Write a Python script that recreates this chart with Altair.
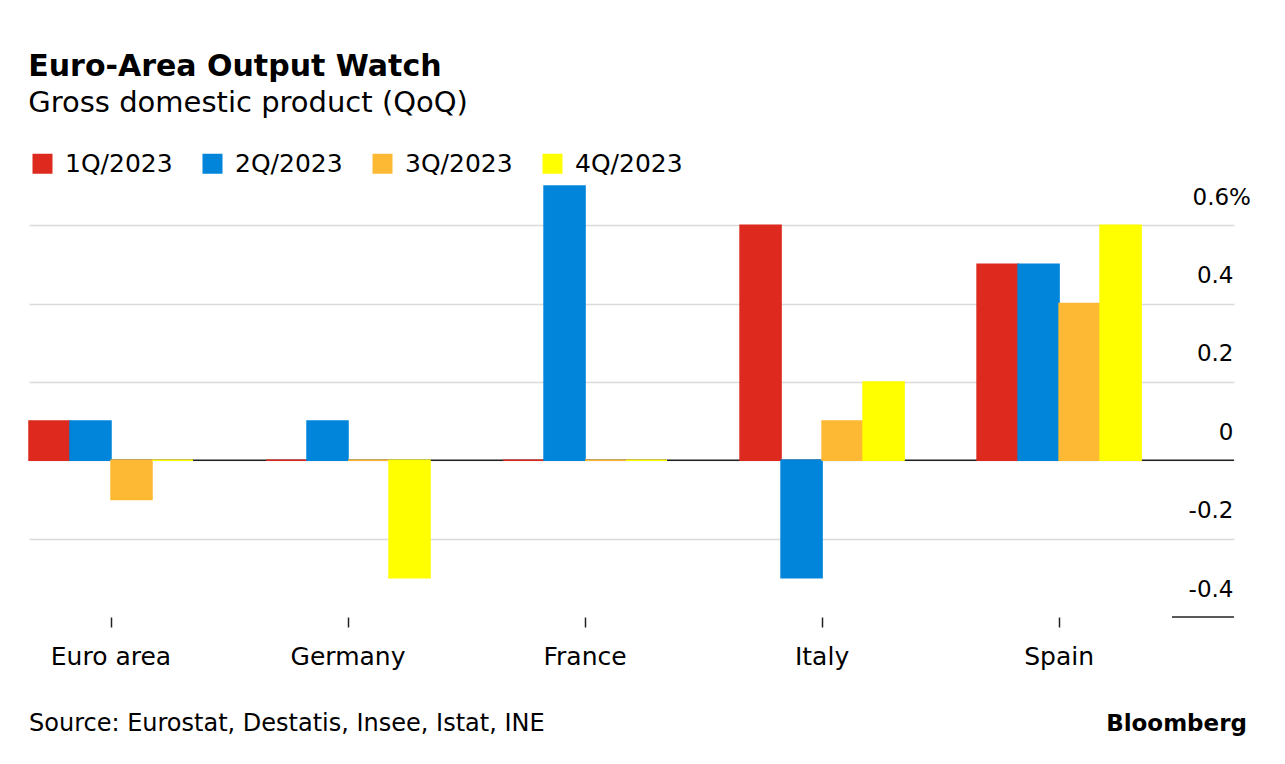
import altair as alt
import pandas as pd

countries = ["Euro area", "Germany", "France", "Italy", "Spain"]
quarters = ["1Q/2023", "2Q/2023", "3Q/2023", "4Q/2023"]
q1 = [0.1, 0.0, 0.0, 0.6, 0.5]
q2 = [0.1, 0.1, 0.7, -0.3, 0.5]
q3 = [-0.1, 0.0, 0.0, 0.1, 0.4]
q4 = [0.0, -0.3, 0.0, 0.2, 0.6]
colors = ["#DD291E", "#0085DB", "#FDB933", "#FFFF00"]
y_ticks = [-0.4, -0.2, 0, 0.2, 0.4, 0.6]
source_text = "Source: Eurostat, Destatis, Insee, Istat, INE"
brand_text = "Bloomberg"

rows = []
for qname, series in zip(quarters, [q1, q2, q3, q4]):
    for c, v in zip(countries, series):
        rows.append({"country": c, "quarter": qname, "value": v})
df = pd.DataFrame(rows)

FONT = "DejaVu Sans"
W, H = 1205, 431

color_scale = alt.Scale(domain=quarters, range=colors)
y_scale = alt.Scale(domain=[-0.4, 0.7], nice=False)

bars = alt.Chart(df).mark_bar(strokeWidth=1.5).encode(
    x=alt.X("country:N", sort=countries,
            scale=alt.Scale(paddingInner=0.308, paddingOuter=0.196, align=0),
            axis=alt.Axis(title=None, labelAngle=0, labelFont=FONT, labelFontSize=25,
                          labelColor="black", domain=False, ticks=True, tickSize=10,
                          tickColor="#222", tickWidth=1.5, labelPadding=17,
                          grid=False)),
    xOffset=alt.XOffset("quarter:N", sort=quarters,
                        scale=alt.Scale(paddingInner=0, paddingOuter=0)),
    y=alt.Y("value:Q", scale=y_scale,
            axis=alt.Axis(title=None, orient="right", values=y_ticks,
                          labelExpr="datum.value > 0.55 ? ('' + datum.value + '%') : ('' + datum.value)",
                          labelFont=FONT, labelFontSize=23, labelColor="black",
                          labelAlign={"condition": {"test": "datum.value > 0.55", "value": "left"}, "value": "right"},
                          labelPadding={"condition": {"test": "datum.value > 0.55", "value": -42}, "value": -1},
                          labelBaseline="alphabetic", labelOffset=-21,
                          domain=False, ticks=False, tickSize=0,
                          grid=True, gridColor="#DADADA", gridWidth=1.5,
                          gridOpacity={"condition": {"test": "datum.value < -0.3", "value": 0}, "value": 1})),
    color=alt.Color("quarter:N", sort=quarters, scale=color_scale,
                    legend=alt.Legend(title=None, orient="none", legendX=1, legendY=-35,
                                      direction="horizontal", symbolType="square",
                                      symbolSize=400, symbolStrokeWidth=0,
                                      labelFont=FONT, labelFontSize=25, labelColor="black",
                                      labelOffset=10, columnPadding=27)),
    stroke=alt.Stroke("quarter:N", sort=quarters, scale=color_scale, legend=None),
)

zero_rule = alt.Chart(pd.DataFrame({"v": [0]})).mark_rule(color="#222", strokeWidth=1.5).encode(
    y=alt.datum(0)
)
bottom_rule = alt.Chart(pd.DataFrame({"v": [0]})).mark_rule(color="#222", strokeWidth=1.5).encode(
    y=alt.datum(-0.4), x=alt.value(1143), x2=alt.value(1205)
)

source = alt.Chart(pd.DataFrame({"t": [source_text]})).mark_text(
    align="left", baseline="alphabetic", font=FONT, fontSize=24, color="black"
).encode(x=alt.value(0), y=alt.value(545), text="t:N")

brand = alt.Chart(pd.DataFrame({"t": [brand_text]})).mark_text(
    align="right", baseline="alphabetic", font=FONT, fontSize=23, fontWeight="bold", color="black"
).encode(x=alt.value(1218), y=alt.value(545), text="t:N")

chart = alt.layer(zero_rule, bars, bottom_rule, source, brand).properties(
    width=W, height=H,
    background="white",
    padding={"left": 20, "top": 44, "right": 10, "bottom": 10},
    title=alt.TitleParams(
        "Euro-Area Output Watch", subtitle="Gross domestic product (QoQ)",
        anchor="start", font=FONT, fontSize=30, fontWeight="bold", color="black",
        subtitleFont=FONT, subtitleFontSize=29, subtitleColor="black",
        subtitlePadding=7, offset=33,
    ),
).configure_view(strokeWidth=0, stroke="transparent")

chart.save("out.html", embed_options={"renderer": "svg", "actions": False})
